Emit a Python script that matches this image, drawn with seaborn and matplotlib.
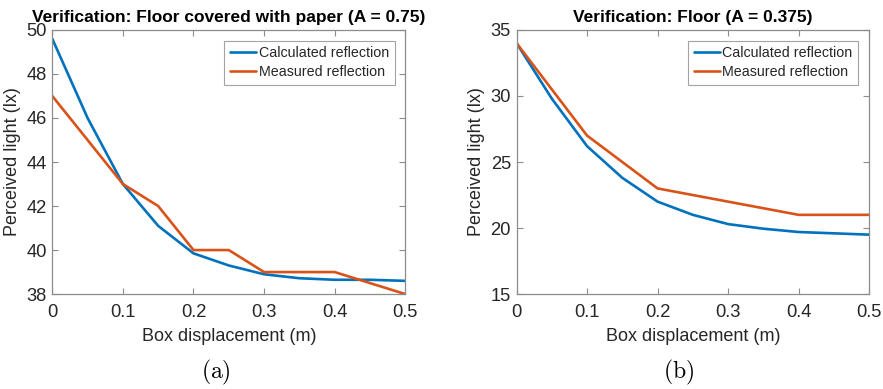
import numpy as np
import pandas as pd
import matplotlib
matplotlib.use("Agg")
import matplotlib.pyplot as plt
import seaborn as sns

# Box displacement positions (m)
displacement = [0.0, 0.05, 0.10, 0.15, 0.20, 0.25, 0.30, 0.35, 0.40, 0.45, 0.50]

# Floor covered with paper (A = 0.75)
paper_calculated = [49.6, 46.0, 43.0, 41.1, 39.85, 39.3, 38.9, 38.72, 38.65, 38.65, 38.6]
paper_measured = [47.0, 45.0, 43.0, 42.0, 40.0, 40.0, 39.0, 39.0, 39.0, 38.5, 38.0]

# Bare floor (A = 0.375)
floor_calculated = [34.0, 29.8, 26.2, 23.8, 22.0, 21.0, 20.3, 19.95, 19.7, 19.6, 19.5]
floor_measured = [34.0, 30.5, 27.0, 25.0, 23.0, 22.5, 22.0, 21.5, 21.0, 21.0, 21.0]

series_names = ["Calculated reflection", "Measured reflection"]
palette = {"Calculated reflection": "#0072BD", "Measured reflection": "#D95319"}

panels = [
    dict(title="Verification: Floor covered with paper (A = 0.75)",
         calc=paper_calculated, meas=paper_measured,
         ylim=(38, 50), yticks=[38, 40, 42, 44, 46, 48, 50], caption="(a)"),
    dict(title="Verification: Floor (A = 0.375)",
         calc=floor_calculated, meas=floor_measured,
         ylim=(15, 35), yticks=[15, 20, 25, 30, 35], caption="(b)"),
]

sns.set_theme(style="white")
plt.rcParams["font.family"] = ["Liberation Sans", "DejaVu Sans"]
plt.rcParams["mathtext.fontset"] = "cm"

fig = plt.figure(figsize=(8.83, 3.89), dpi=100)
positions = [[0.0592, 0.244, 0.3998, 0.679], [0.5850, 0.244, 0.3993, 0.679]]
caption_x = [0.245, 0.769]

axis_gray = "#262626"
spine_gray = "#8c8c8c"

for pos, panel, cx in zip(positions, panels, caption_x):
    ax = fig.add_axes(pos)
    df = pd.DataFrame({
        "x": displacement * 2,
        "y": panel["calc"] + panel["meas"],
        "series": [series_names[0]] * len(displacement) + [series_names[1]] * len(displacement),
    })
    sns.lineplot(data=df, x="x", y="y", hue="series", hue_order=series_names,
                 palette=palette, linewidth=1.9, ax=ax)
    ax.set_xlim(0, 0.5)
    ax.set_ylim(*panel["ylim"])
    ax.set_xticks([0, 0.1, 0.2, 0.3, 0.4, 0.5])
    ax.set_xticklabels(["0", "0.1", "0.2", "0.3", "0.4", "0.5"])
    ax.set_yticks(panel["yticks"])
    ax.tick_params(direction="in", length=4, width=0.8, color=spine_gray,
                   labelsize=13.2, labelcolor=axis_gray, top=True, right=True,
                   bottom=True, left=True)
    ax.tick_params(axis="x", pad=7)
    ax.tick_params(axis="y", pad=4)
    for s in ax.spines.values():
        s.set_color(spine_gray)
        s.set_linewidth(0.9)
    ax.set_xlabel("Box displacement (m)", fontsize=13, color=axis_gray, labelpad=5)
    ax.set_ylabel("Perceived light (lx)", fontsize=13, color=axis_gray, labelpad=4)
    ax.set_title(panel["title"], fontsize=12.5, fontweight="bold", color="black", pad=6)
    leg = ax.legend(loc="upper right", fontsize=10.3, frameon=True, fancybox=False,
                    edgecolor=spine_gray, handlelength=1.8, handletextpad=0.2,
                    borderpad=0.4, labelspacing=0.35, borderaxespad=0.75)
    leg.get_frame().set_linewidth(0.8)
    for t in leg.get_texts():
        t.set_color(axis_gray)
    fig.text(cx, 0.043, r"$\mathrm{" + panel["caption"] + "}$", fontsize=17,
             ha="center", va="center", color="black")

fig.savefig("out.png", dpi=100)
